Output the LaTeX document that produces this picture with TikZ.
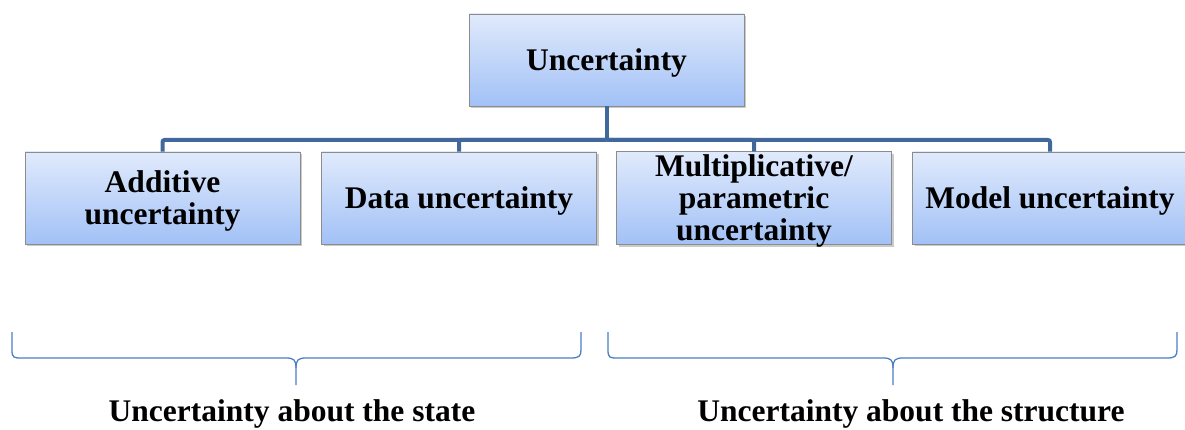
\documentclass[tikz,border=0pt]{standalone}
\usepackage{fontspec}
\setmainfont{Liberation Serif}
\usetikzlibrary{shadows}
\definecolor{boxtop}{HTML}{E0EAFC}
\definecolor{boxbot}{HTML}{A2C1F6}
\definecolor{boxborder}{HTML}{8C8C8C}
\definecolor{connc}{HTML}{41689A}
\definecolor{bracec}{HTML}{4A7EC7}
\newcommand{\lowtext}[1]{\raisebox{-2.5pt}[\height][\depth]{#1}}
\begin{document}
\begin{tikzpicture}[x=1pt,y=-1pt,
  ubox/.style={draw=boxborder, line width=0.8pt, top color=boxtop, bottom color=boxbot,
    minimum width=275pt, minimum height=92pt, inner sep=0pt, align=center,
    font=\bfseries\fontsize{31.5}{32}\selectfont,
    drop shadow={shadow xshift=2pt, shadow yshift=-2.5pt, opacity=0.35, fill=black!60}},
  conn/.style={draw=connc, line width=4pt, rounded corners=2pt},
  brace/.style={draw=bracec, line width=1.3pt},
  blabel/.style={font=\bfseries\fontsize{31.5}{31.5}\selectfont, inner sep=0pt}
]
\useasboundingbox (0,0) rectangle (1185,430);
\node[ubox] (top) at (606.5,60) {\lowtext{Uncertainty}};
\node[ubox] (a1) at (162.5,198) {\lowtext{Additive}\\\lowtext{uncertainty}};
\node[ubox] (a2) at (459,198) {\lowtext{Data uncertainty}};
\node[ubox] (a3) at (754,198) {\lowtext{Multiplicative/}\\\lowtext{parametric}\\\lowtext{uncertainty}};
\node[ubox] (a4) at (1050,198) {\lowtext{Model uncertainty}};
\coordinate (bar) at (606.5,140);
\draw[conn] (top.south) -- (top.south |- bar);
\draw[conn] (a1.north) |- (bar);
\draw[conn] (a2.north) |- (bar);
\draw[conn] (a3.north) |- (bar);
\draw[conn] (a4.north) |- (bar);
% braces
\draw[brace] (12,332) -- (12,350) .. controls (12,358) and (14,358) .. (22,358) -- (286,358)
  .. controls (294,358) and (296,360) .. (296,368) -- (296,385);
\draw[brace] (296,368) .. controls (296,360) and (298,358) .. (306,358) -- (571,358)
  .. controls (579,358) and (581,356) .. (581,350) -- (581,332);
\draw[brace] (608,332) -- (608,350) .. controls (608,358) and (610,358) .. (618,358) -- (883,358)
  .. controls (891,358) and (893,360) .. (893,368) -- (893,385);
\draw[brace] (893,368) .. controls (893,360) and (895,358) .. (903,358) -- (1167,358)
  .. controls (1175,358) and (1177,356) .. (1177,350) -- (1177,332);
\node[blabel] (l1) at (292,414) {Uncertainty about the state};
\node[blabel] (l2) at (911,414) {Uncertainty about the structure};
\end{tikzpicture}
\end{document}
